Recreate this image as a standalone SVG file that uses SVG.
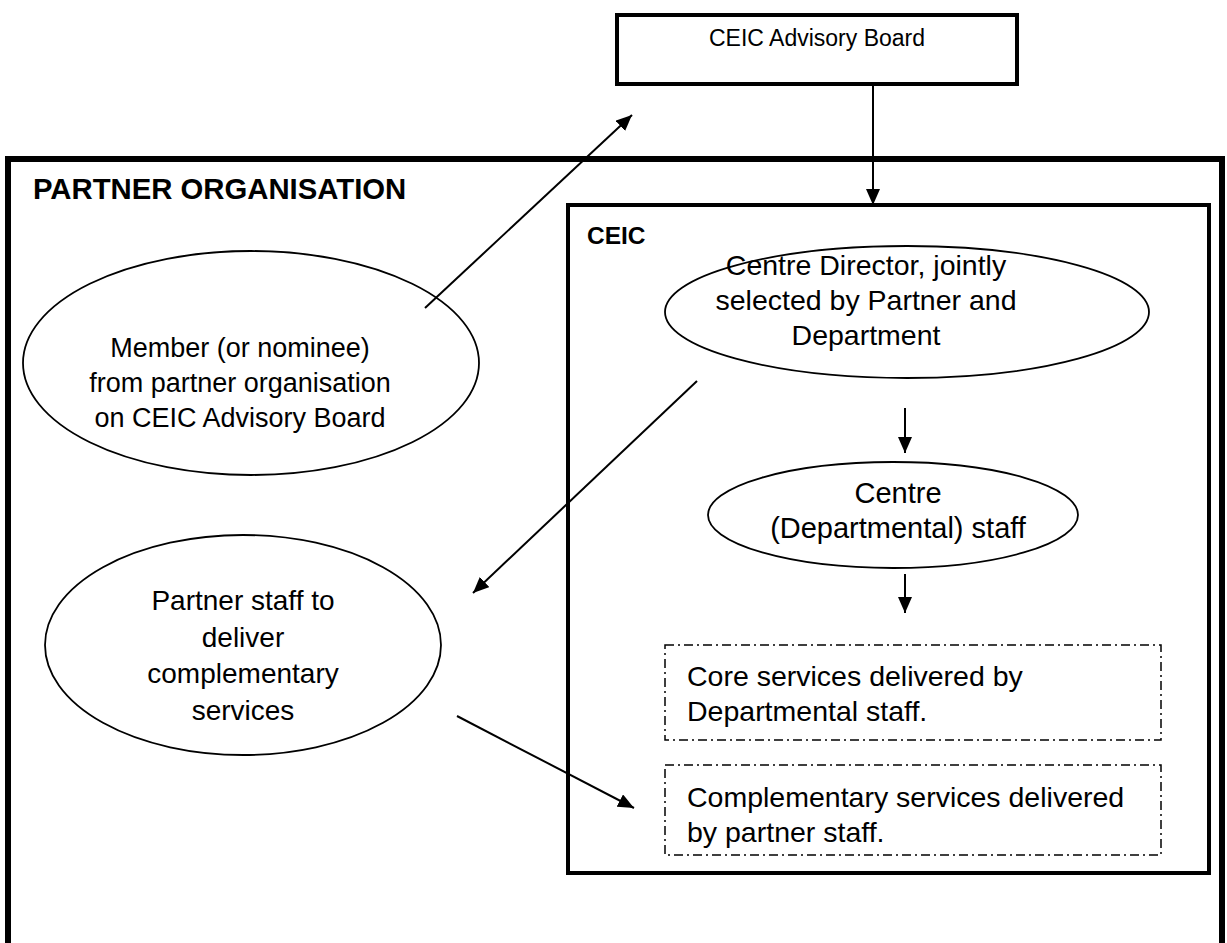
<svg xmlns="http://www.w3.org/2000/svg" width="1227" height="943" viewBox="0 0 1227 943">
<style>
text{font-family:"Liberation Sans",Arial,sans-serif;fill:#000}
.b{font-weight:bold}
.c{text-anchor:middle}
.f23{font-size:23px}
.f25{font-size:24.5px}
.f27{font-size:27px}
.f28{font-size:28px}
.f285{font-size:28.5px}
.f29{font-size:29px}
.f293{font-size:29.3px}
.thick{fill:none;stroke:#000;stroke-width:6}
.med{fill:none;stroke:#000;stroke-width:4}
.ell{fill:#fff;stroke:#000;stroke-width:1.8}
.dash{fill:none;stroke:#000;stroke-width:1.5;stroke-dasharray:9 4 2 4}
.con{stroke:#000;stroke-width:2;fill:none;marker-end:url(#ah)}
</style>
<defs>
<marker id="ah" markerWidth="16" markerHeight="14" viewBox="0 0 16 14" refX="16" refY="7" orient="auto" markerUnits="userSpaceOnUse">
<path d="M0,0 L16,7 L0,14 z" fill="#000"/>
</marker>
</defs>
<rect width="1227" height="943" fill="#fff"/>
<g id="partner-organisation">
<rect class="thick" x="8" y="159" width="1214" height="820"/>
<text class="b f293" x="33" y="199">PARTNER ORGANISATION</text>
</g>
<g id="ceic">
<rect class="med" x="568" y="205" width="641" height="668"/>
<text class="b f25" x="587" y="244">CEIC</text>
</g>
<g id="advisory-board">
<rect class="med" x="617" y="15" width="400" height="69"/>
<text class="c f23" x="817" y="46">CEIC Advisory Board</text>
</g>
<g id="member">
<ellipse class="ell" cx="251" cy="363" rx="228" ry="112"/>
<text class="c f27" x="240" y="357">Member (or nominee)</text>
<text class="c f27" x="240" y="392">from partner organisation</text>
<text class="c f27" x="240" y="427">on CEIC Advisory Board</text>
</g>
<g id="director">
<ellipse class="ell" cx="907" cy="312" rx="242" ry="66"/>
<text class="c f285" x="866" y="275">Centre Director, jointly</text>
<text class="c f285" x="866" y="310">selected by Partner and</text>
<text class="c f285" x="866" y="345">Department</text>
</g>
<g id="centre-staff">
<ellipse class="ell" cx="893" cy="515" rx="185" ry="53"/>
<text class="c f29" x="898" y="503">Centre</text>
<text class="c f29" x="898" y="538">(Departmental) staff</text>
</g>
<g id="partner-staff">
<ellipse class="ell" cx="243" cy="645" rx="198" ry="110"/>
<text class="c f28" x="243" y="610">Partner staff to</text>
<text class="c f28" x="243" y="647">deliver</text>
<text class="c f28" x="243" y="683">complementary</text>
<text class="c f28" x="243" y="720">services</text>
</g>
<g id="core-services">
<rect class="dash" x="665" y="645" width="496" height="95"/>
<text class="f285" x="687" y="686">Core services delivered by</text>
<text class="f285" x="687" y="721">Departmental staff.</text>
</g>
<g id="complementary-services">
<rect class="dash" x="665" y="765" width="496" height="90"/>
<text class="f285" x="687" y="807">Complementary services delivered</text>
<text class="f285" x="687" y="842">by partner staff.</text>
</g>
<g id="connectors">
<line class="con" x1="873" y1="86" x2="873" y2="205"/>
<line class="con" x1="425" y1="308" x2="632" y2="115"/>
<line class="con" x1="697" y1="381" x2="473" y2="593"/>
<line class="con" x1="905" y1="408" x2="905" y2="453"/>
<line class="con" x1="905" y1="574" x2="905" y2="613"/>
<line class="con" x1="457" y1="716" x2="634" y2="808"/>
</g>
</svg>
